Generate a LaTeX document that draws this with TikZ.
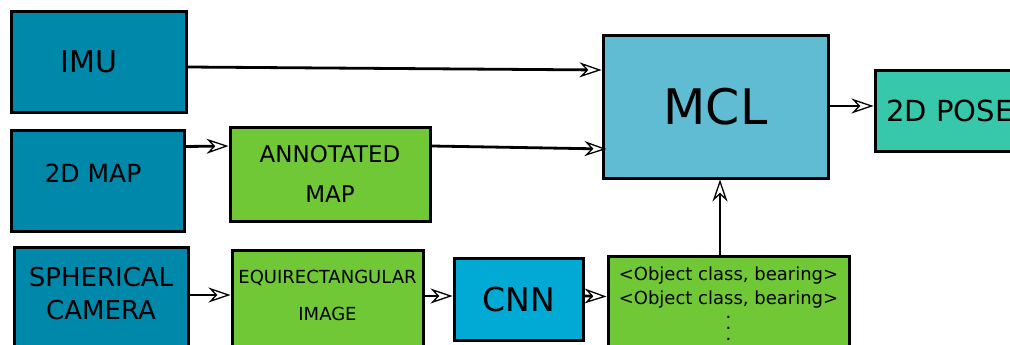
\documentclass[tikz,border=0pt]{standalone}
\usepackage{fontspec}
\setmainfont{DejaVu Sans}
\usetikzlibrary{arrows.meta,calc}

\definecolor{sensorblue}{RGB}{0,136,170}
\definecolor{procgreen}{RGB}{113,200,55}
\definecolor{cnnblue}{RGB}{0,170,212}
\definecolor{mclblue}{RGB}{95,188,211}
\definecolor{posegreen}{RGB}{55,200,171}

\begin{document}
\begin{tikzpicture}[
    x=1pt, y=-1pt,
    block/.style = {rectangle, draw, line width=3pt, inner sep=0pt, align=center},
    sensor/.style = {block, fill=sensorblue},
    proc/.style = {block, fill=procgreen},
    arrow/.style = {-{Stealth[open, length=22pt, width=15pt, inset=7pt, line width=1.3pt 0]}, line width=2.8pt}
]
    \useasboundingbox (0,0) rectangle (1010,345);
    \clip (0,0) rectangle (1010,345);

    \node[sensor, minimum width=175pt, minimum height=100pt, font=\fontsize{30}{36}\selectfont] (imu) at (98.5,62) {IMU\hspace*{19pt}};
    \node[sensor, minimum width=173pt, minimum height=101pt, font=\fontsize{25}{30}\selectfont, text depth=15pt] (map) at (97.5,180.5) {2D MAP\hspace*{9pt}};
    \node[sensor, minimum width=174pt, minimum height=110pt, font=\fontsize{26}{33}\selectfont, text depth=17pt] (cam) at (101,302) {SPHERICAL\\CAMERA};
    \node[proc, minimum width=200pt, minimum height=94pt, font=\fontsize{23}{40}\selectfont] (annot) at (330,174) {ANNOTATED\\MAP};
    \node[proc, minimum width=191pt, minimum height=110pt, font=\fontsize{18}{37}\selectfont, text depth=19pt] (equi) at (327.5,305) {EQUIRECTANGULAR\\IMAGE};
    \node[block, fill=cnnblue, minimum width=129pt, minimum height=82pt, font=\fontsize{33}{40}\selectfont] (cnn) at (518.5,299) {CNN};
    \node[proc, minimum width=241pt, minimum height=95pt, font=\fontsize{18}{24}\selectfont] (obj) at (728.5,303.5) {<Object class, bearing>\\<Object class, bearing>\\[-10.5pt].\\[-13pt].\\[-13pt].};
    \node[block, fill=mclblue, minimum width=225pt, minimum height=142pt, font=\fontsize{49}{58}\selectfont] (mcl) at (715.5,107) {MCL};
    \node[block, fill=posegreen, minimum width=150pt, minimum height=80pt, font=\fontsize{29}{35}\selectfont] (pose) at (950,111) {2D POSE};

    \draw[arrow] ([yshift=-5pt]imu.east) -- ([yshift=37pt]mcl.west);
    \draw[arrow] ([yshift=34pt]map.east) -- ([yshift=28pt]annot.west);
    \draw[arrow] ([yshift=28pt]annot.east) -- ([xshift=5pt,yshift=-42pt]mcl.west);
    \draw[arrow] ([yshift=7pt]cam.east) -- ([yshift=10pt]equi.west);
    \draw[arrow] ([yshift=9pt]equi.east) -- ([yshift=3pt]cnn.west);
    \draw[arrow] ([yshift=3pt]cnn.east) -- ([yshift=7pt]obj.west);
    \draw[arrow] ([xshift=-8.5pt]obj.north) -- ([xshift=4.5pt]mcl.south);
    \draw[arrow] ([yshift=1pt]mcl.east) -- ([yshift=5pt]pose.west);
\end{tikzpicture}
\end{document}
